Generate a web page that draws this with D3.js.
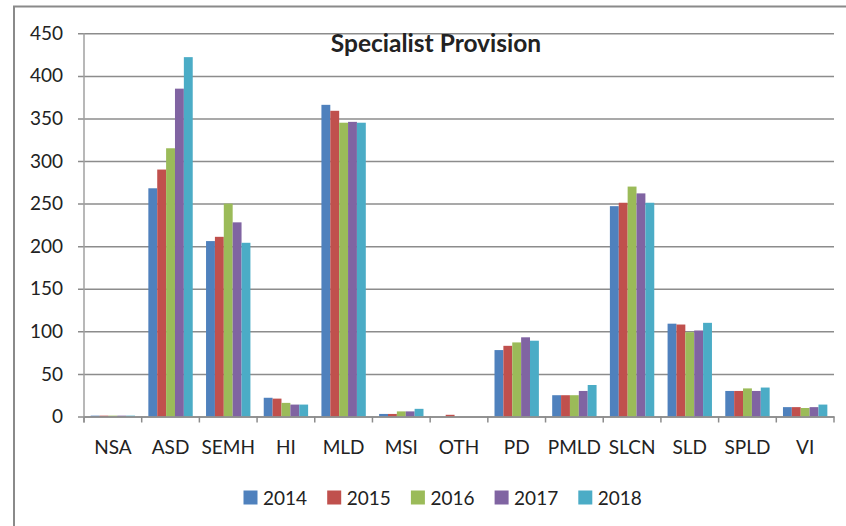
<!DOCTYPE html>
<html>
<head>
<meta charset="utf-8">
<script src="https://cdn.jsdelivr.net/npm/d3@7"></script>
<style>
  body { margin: 0; background: #fff; }
  svg text { font-family: Lato, "Open Sans", sans-serif; fill: #222; }
</style>
</head>
<body>
<div id="chart"></div>
<script>
// chart data
const categories = ["NSA", "ASD", "SEMH", "HI", "MLD", "MSI", "OTH", "PD", "PMLD", "SLCN", "SLD", "SPLD", "VI"];
const years = ["2014", "2015", "2016", "2017", "2018"];
const v2014 = [1, 268, 206, 22, 366, 3, 0, 78, 25, 247, 109, 30, 11];
const v2015 = [1, 290, 211, 21, 359, 3, 2, 83, 25, 251, 108, 30, 11];
const v2016 = [1, 315, 250, 16, 345, 6, 0, 87, 25, 270, 99, 33, 10];
const v2017 = [1, 385, 228, 14, 346, 6, 0, 93, 30, 262, 101, 30, 11];
const v2018 = [1, 422, 204, 14, 345, 9, 0, 89, 37, 251, 110, 34, 14];
const yTicks = [0, 50, 100, 150, 200, 250, 300, 350, 400, 450];
const colors = ["#4F81BD", "#C0504D", "#9BBB59", "#8064A2", "#4BACC6"];

const series = [v2014, v2015, v2016, v2017, v2018];
const data = categories.map((c, i) => ({
  cat: c,
  vals: years.map((y, j) => ({ year: y, n: series[j][i] }))
}));

const width = 846, height = 526;
const margins = { top: 33.3, bottom: 109.5, left: 84, right: 12 };

const svg = d3.select("#chart")
  .append("svg")
  .attr("width", width)
  .attr("height", height);

// outer chart border (only left and top visible in the crop)
svg.append("rect")
  .attr("x", 14).attr("y", 6.5)
  .attr("width", 860).attr("height", 560)
  .attr("fill", "none")
  .attr("stroke", "#8a8a8a")
  .attr("stroke-width", 2);

const yScale = d3.scaleLinear()
  .domain([0, 450])
  .range([height - margins.bottom, margins.top]);

const xScale = d3.scaleBand()
  .domain(categories)
  .range([margins.left, width - margins.right])
  .paddingInner(0)
  .paddingOuter(0);

const xInner = d3.scaleBand()
  .domain(years)
  .range([0, xScale.bandwidth()])
  .paddingInner(0)
  .paddingOuter(0.75);

const colorScale = d3.scaleOrdinal().domain(years).range(colors);

// y axis + gridlines
const yAxis = d3.axisLeft(yScale)
  .tickValues(yTicks)
  .tickSize(-(width - margins.right - (margins.left - 6)))
  .tickPadding(15);

svg.append("g")
  .attr("class", "axis")
  .attr("transform", `translate(${margins.left - 6}, 0)`)
  .call(yAxis)
  .call(g => g.select(".domain").remove())
  .call(g => g.selectAll(".tick line").attr("stroke", "#8c8c8c").attr("stroke-width", 1.5))
  .call(g => g.selectAll(".tick text").style("font-size", "19px").attr("fill", "#222"));

// vertical axis line
svg.append("line")
  .attr("x1", margins.left).attr("x2", margins.left)
  .attr("y1", margins.top).attr("y2", yScale(0) + 6)
  .attr("stroke", "#a0a0a0")
  .attr("stroke-width", 1.5);

// bars
const groups = svg.selectAll("g.grp")
  .data(data)
  .join("g")
  .attr("class", "grp")
  .attr("transform", d => `translate(${xScale(d.cat)}, 0)`);

groups.selectAll("rect")
  .data(d => d.vals)
  .join("rect")
  .attr("x", d => xInner(d.year))
  .attr("y", d => yScale(d.n))
  .attr("width", xInner.bandwidth())
  .attr("height", d => yScale(0) - yScale(d.n))
  .attr("fill", d => colorScale(d.year));

// x axis (labels only), tick marks at band edges
const xAxis = d3.axisBottom(xScale).tickSize(0).tickPadding(24);
svg.append("g")
  .attr("class", "axis")
  .attr("transform", `translate(0, ${yScale(0)})`)
  .call(xAxis)
  .call(g => g.select(".domain").attr("stroke", "#8c8c8c").attr("stroke-width", 1.5))
  .call(g => g.selectAll(".tick text").style("font-size", "19px").attr("fill", "#222"));

const edges = categories.map(c => xScale(c)).concat([xScale.range()[1]]);
svg.append("g")
  .selectAll("line")
  .data(edges)
  .join("line")
  .attr("x1", d => d).attr("x2", d => d)
  .attr("y1", yScale(0)).attr("y2", yScale(0) + 6)
  .attr("stroke", "#8c8c8c")
  .attr("stroke-width", 1.5);

// title
svg.append("text")
  .attr("x", 436)
  .attr("y", 52)
  .attr("text-anchor", "middle")
  .style("font-size", "24.5px")
  .style("font-weight", "bold")
  .attr("fill", "#111")
  .text("Specialist Provision");

// legend
const legend = svg.append("g")
  .selectAll("g")
  .data(years)
  .join("g")
  .attr("transform", (d, i) => `translate(${243.5 + i * 83.7}, 490.5)`);

legend.append("rect")
  .attr("width", 14).attr("height", 14)
  .attr("fill", d => colorScale(d));

legend.append("text")
  .attr("x", 19.5)
  .attr("y", 14.5)
  .style("font-size", "19px")
  .text(d => d);
</script>
</body>
</html>
